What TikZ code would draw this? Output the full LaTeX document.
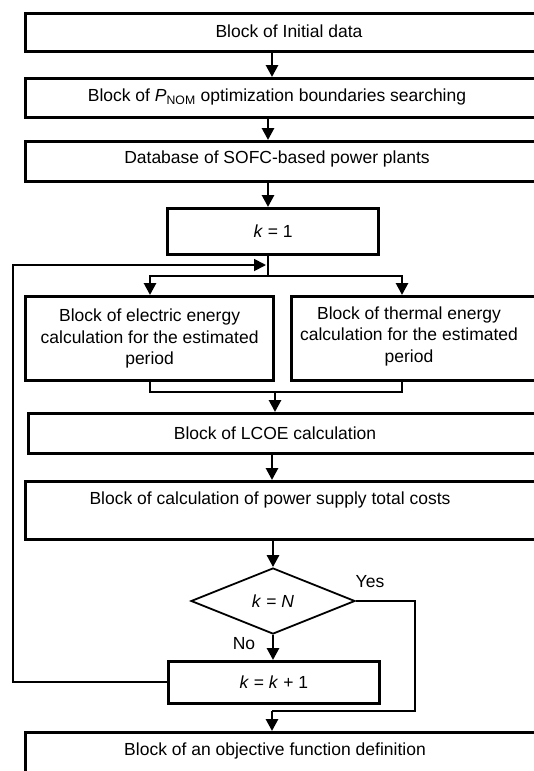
\documentclass[tikz,border=0pt]{standalone}
\usepackage{fontspec}
\setmainfont{Liberation Sans}
\usetikzlibrary{arrows.meta,shapes.geometric}
\begin{document}
\begin{tikzpicture}[x=1pt,y=-1pt,
 box/.style={draw,line width=3.2pt,anchor=north west,inner sep=0pt},
 txt/.style={font=\fontsize{17.5}{21.5}\selectfont,inner sep=0pt},
 arr/.style={line width=2.8pt,-{Triangle[width=12pt,length=12pt]}},
 ln/.style={line width=2.8pt},
 thinln/.style={line width=1.8pt}]
\useasboundingbox (0,0) rectangle (534,771);
\clip (0,0) rectangle (534,771);
% boxes
\node[box,minimum width=560pt,minimum height=38pt] (b1) at (24,12) {};
\node[txt] (t1) at (289,31) {Block of Initial data};
\node[box,minimum width=560pt,minimum height=39pt] (b2) at (24,77) {};
\node[txt] (t2) at (277,97) {Block of \textit{P}\textsubscript{NOM} optimization boundaries searching};
\node[box,minimum width=560pt,minimum height=40pt] (b3) at (24,140) {};
\node[txt] (t3) at (277,159) {Database of SOFC-based power plants};
\node[box,txt,minimum width=211pt,minimum height=46pt] (k1) at (166,207) {\textit{k} = 1};
\node[box,txt,align=center,minimum width=248pt,minimum height=84pt] (el) at (24,295) {Block of electric energy\\calculation for the estimated\\period};
\node[box,minimum width=280pt,minimum height=84pt] (th) at (290,295) {};
\node[txt,align=center] (tth) at (409,336) {Block of thermal energy\\calculation for the estimated\\period};
\node[box,minimum width=560pt,minimum height=40pt] (lc) at (27,412) {};
\node[txt] (tlc) at (275,433) {Block of LCOE calculation};
\node[box,minimum width=560pt,minimum height=58pt] (tc) at (24,480) {};
\node[txt] (ttc) at (270,500) {Block of calculation of power supply total costs};
\node[draw,diamond,line width=1.8pt,minimum width=164pt,minimum height=66pt,inner sep=0pt,aspect=2.5,txt] (dec) at (273,601) {\textit{k} = \textit{N}};
\node[box,txt,line width=2.6pt,minimum width=211pt,minimum height=42pt] (kk) at (167,660) {\textit{k} = \textit{k} + 1};
\node[box,minimum width=560pt,minimum height=60pt] (fin) at (24,731) {};
\node[txt] (tfin) at (275,751) {Block of an objective function definition};
\node[txt] (yes) at (370,582) {Yes};
\node[txt] (no) at (244,644) {No};
% coordinates
\coordinate (x272) at (272,0);
\coordinate (x268) at (268,0);
\coordinate (br) at (268,276);
\coordinate (jn) at (266,265);
\coordinate (lx) at (13,0);
\coordinate (xr) at (402,0);
\coordinate (xl) at (150,0);
\coordinate (mg) at (275,392);
\coordinate (yx) at (415,0);
\coordinate (yy) at (272,711);
% connectors
\draw[arr] (b1.south -| x272) -- (b2.north -| x272);
\draw[arr] (b2.south -| x268) -- (b3.north -| x268);
\draw[arr] (b3.south -| x268) -- (k1.north -| x268);
\draw[ln] (k1.south -| br) -- (br);
\draw[arr] (br) -| (el.north -| xl);
\draw[arr] (br) -| (th.north -| xr);
\draw[ln] (el.south -| xl) |- (mg);
\draw[ln] (th.south -| xr) |- (mg);
\draw[arr] (mg) -- (lc.north -| mg);
\draw[arr] (lc.south -| x272) -- (tc.north -| x272);
\draw[arr] (tc.south -| dec) -- (dec.north);
\draw[arr] (dec.south) -- (kk.north -| dec);
\draw[thinln,-{Triangle[width=12pt,length=12pt]}] (kk.west) -- (kk.west -| lx) -- (jn -| lx) -- (jn);
\draw[thinln] (dec.east) -| (yy -| yx) -- (yy);
\draw[arr] (yy) -- (fin.north -| yy);
\end{tikzpicture}
\end{document}
